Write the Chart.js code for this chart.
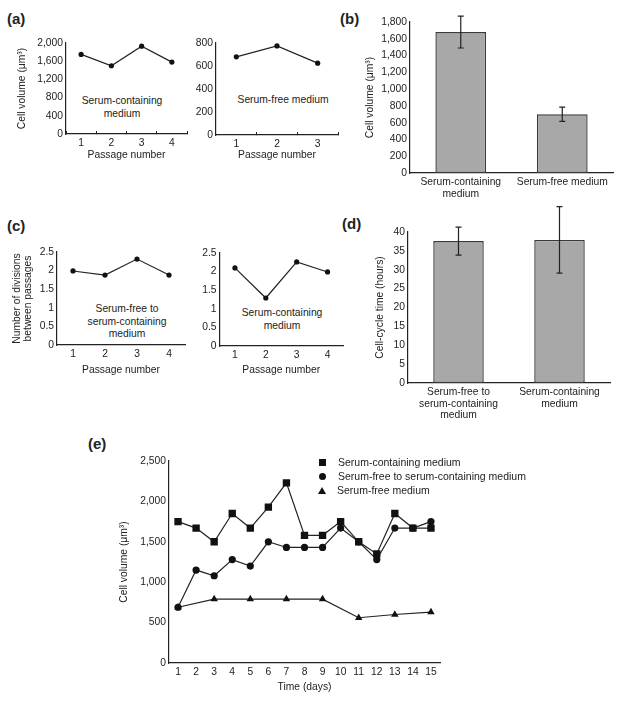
<!DOCTYPE html>
<html>
<head>
<meta charset="utf-8">
<script src="https://cdn.jsdelivr.net/npm/chart.js@4.4.1/dist/chart.umd.min.js"></script>
<style>
  body { margin: 0; width: 620px; height: 713px; position: relative; overflow: hidden; background: #fff;
         font-family: "Liberation Sans", Arial, sans-serif; color: #222; }
  canvas { position: absolute; }
  .panel { position: absolute; font-weight: bold; font-size: 15px; line-height: 18px; }
  .note { position: absolute; font-size: 10.3px; line-height: 12.5px; text-align: center; white-space: nowrap; transform: translateX(-50%); }
  .legend { position: absolute; left: 318px; top: 455px; font-size: 10.5px; }
  .legend div { height: 14px; line-height: 14px; white-space: nowrap; }
  .legend i { display: inline-block; width: 7px; height: 7px; background: #111; margin: 0 12px 1px 1px; vertical-align: middle; }
  .legend i.circle { border-radius: 50%; }
  .legend i.triangle { width: 0; height: 0; background: none; border-left: 4px solid transparent; border-right: 4px solid transparent; border-bottom: 7px solid #111; margin-left: 0; margin-right: 11px; }
</style>
</head>
<body>
<!-- panel letters -->
<div class="panel" style="left:7px;top:10px">(a)</div>
<div class="panel" style="left:340px;top:10px">(b)</div>
<div class="panel" style="left:7px;top:217px">(c)</div>
<div class="panel" style="left:342px;top:215px">(d)</div>
<div class="panel" style="left:88px;top:435px">(e)</div>

<!-- text inside the small line plots -->
<div class="note" style="left:122px;top:95px">Serum-containing<br>medium</div>
<div class="note" style="left:283px;top:94px">Serum-free medium</div>
<div class="note" style="left:127px;top:303px">Serum-free to<br>serum-containing<br>medium</div>
<div class="note" style="left:282px;top:307px">Serum-containing<br>medium</div>

<canvas id="a1"></canvas>
<canvas id="a2"></canvas>
<canvas id="b"></canvas>
<canvas id="c1"></canvas>
<canvas id="c2"></canvas>
<canvas id="d"></canvas>
<canvas id="e"></canvas>
<div class="legend" id="legendE"></div>

<script>
// (a) cell volume per passage
const passages4 = ["1", "2", "3", "4"];
const passages3 = ["1", "2", "3"];
const volumeContaining = [1750, 1500, 1930, 1580];
const volumeFree = [680, 775, 625];

// (b) mean cell volume
const mediumB = [["Serum-containing", "medium"], "Serum-free medium"];
const meanVolume = [1680, 700];
const meanVolumeErr = [190, 85];

// (c) divisions between passages
const divisionsFreeToContaining = [1.99, 1.88, 2.31, 1.88];
const divisionsContaining = [2.10, 1.29, 2.26, 1.99];

// (d) cell-cycle time
const mediumD = [["Serum-free to", "serum-containing", "medium"], ["Serum-containing", "medium"]];
const cycleTime = [37.6, 37.9];
const cycleTimeErr = [3.7, 8.8];

// (e) cell volume over time
const days = ["1", "2", "3", "4", "5", "6", "7", "8", "9", "10", "11", "12", "13", "14", "15"];
const volContaining = [1750, 1670, 1500, 1850, 1670, 1930, 2230, 1580, 1580, 1750, 1500, 1350, 1850, 1670, 1670];
const volFreeToContaining = [690, 1150, 1080, 1280, 1200, 1500, 1430, 1430, 1430, 1670, 1500, 1280, 1670, 1670, 1750];
const volFree = [690, null, 790, null, 790, null, 790, null, 790, null, 560, null, 600, null, 630];

const FONT = { family: "'Liberation Sans', Arial, sans-serif", size: 10.3, lineHeight: 1.15 };
const INK = "#222";
Chart.defaults.color = INK;
Chart.defaults.font.family = FONT.family;
Chart.defaults.font.size = FONT.size;

// draws +/- error bars from dataset.errors
const errorBars = {
  id: "errorBars",
  afterDatasetsDraw(chart) {
    const { ctx, scales: { y } } = chart;
    chart.data.datasets.forEach((ds, di) => {
      if (!ds.errors) return;
      const meta = chart.getDatasetMeta(di);
      ctx.save();
      ctx.strokeStyle = INK;
      ctx.lineWidth = 1.2;
      meta.data.forEach((bar, i) => {
        const top = y.getPixelForValue(ds.data[i] + ds.errors[i]);
        const bot = y.getPixelForValue(ds.data[i] - ds.errors[i]);
        ctx.beginPath();
        ctx.moveTo(bar.x, top); ctx.lineTo(bar.x, bot);
        ctx.moveTo(bar.x - 3, top); ctx.lineTo(bar.x + 3, top);
        ctx.moveTo(bar.x - 3, bot); ctx.lineTo(bar.x + 3, bot);
        ctx.stroke();
      });
      ctx.restore();
    });
  }
};

// box = canvas rect on the page, plot = wanted chart area on the page
function makeChart(id, box, plot, o) {
  const cv = document.getElementById(id);
  cv.width = box.w; cv.height = box.h;
  cv.style.left = box.x + "px"; cv.style.top = box.y + "px";
  const lh = FONT.size * 1.2;
  const yW = plot.l - box.x, xH = box.y + box.h - plot.b;
  return new Chart(cv, {
    type: o.type,
    data: o.data,
    plugins: o.plugins || [],
    options: {
      responsive: false,
      animation: false,
      locale: "en-US",
      layout: { padding: { left: 0, bottom: 0, top: plot.t - box.y, right: box.x + box.w - plot.r } },
      plugins: { legend: { display: false }, tooltip: { enabled: false } },
      scales: {
        x: {
          offset: true,
          grid: o.xTicksUp
            ? { display: true, drawOnChartArea: false, offset: true, tickLength: -3, color: INK, lineWidth: 1 }
            : { display: false, drawTicks: false },
          border: { display: true, color: INK, width: 1.2 },
          ticks: { padding: o.xTicksUp ? 6 : 3, maxRotation: 0, autoSkip: false, font: FONT },
          title: {
            display: !!o.xTitle, text: o.xTitle, font: FONT,
            padding: { top: 0, bottom: box.y + box.h - o.xTitleY - lh / 2 }
          },
          afterFit(s) { s.height = xH; s.paddingLeft = 0; s.paddingRight = 0; }
        },
        y: {
          min: 0, max: o.yMax,
          grid: { display: false, drawTicks: false },
          border: { display: true, color: INK, width: 1.2 },
          ticks: { stepSize: o.yStep, padding: 3, font: FONT, callback: v => v.toLocaleString("en-US") },
          title: {
            display: !!o.yTitle, text: o.yTitle, font: FONT,
            padding: { top: o.yTitleX ? o.yTitleX - box.x - lh / 2 : 0, bottom: 0 }
          },
          afterFit(s) { s.width = yW; s.paddingTop = 0; s.paddingBottom = 0; }
        }
      }
    }
  });
}

function lineSet(values) {
  return {
    data: values, borderColor: INK, borderWidth: 1.2,
    pointRadius: 2.6, pointBackgroundColor: "#111", pointBorderWidth: 0
  };
}

function barSet(values, errors) {
  return {
    data: values, errors: errors,
    backgroundColor: "#a8a8a8", borderColor: "#3a3a3a", borderWidth: 1.4, borderSkipped: false,
    barPercentage: 0.5, categoryPercentage: 1
  };
}

const volumeTitle = "Cell volume (\u03bcm\u00b3)";

makeChart("a1", { x: 12, y: 30, w: 183, h: 135 }, { l: 66, t: 43, r: 187, b: 134 }, {
  type: "line", data: { labels: passages4, datasets: [lineSet(volumeContaining)] },
  yMax: 2000, yStep: 400, yTitle: volumeTitle, yTitleX: 22,
  xTitle: "Passage number", xTitleY: 155, xTicksUp: true
});

makeChart("a2", { x: 185, y: 30, w: 160, h: 135 }, { l: 216, t: 43, r: 338, b: 135 }, {
  type: "line", data: { labels: passages3, datasets: [lineSet(volumeFree)] },
  yMax: 800, yStep: 200,
  xTitle: "Passage number", xTitleY: 155, xTicksUp: true
});

makeChart("b", { x: 355, y: 5, w: 262, h: 200 }, { l: 410, t: 22, r: 613, b: 173 }, {
  type: "bar", data: { labels: mediumB, datasets: [barSet(meanVolume, meanVolumeErr)] },
  plugins: [errorBars],
  yMax: 1800, yStep: 200, yTitle: volumeTitle, yTitleX: 370
});

makeChart("c1", { x: 5, y: 240, w: 185, h: 140 }, { l: 57, t: 252, r: 185, b: 345 }, {
  type: "line", data: { labels: passages4, datasets: [lineSet(divisionsFreeToContaining)] },
  yMax: 2.5, yStep: 0.5, yTitle: ["Number of divisions", "between passages"], yTitleX: 17,
  xTitle: "Passage number", xTitleY: 370
});

makeChart("c2", { x: 190, y: 240, w: 160, h: 140 }, { l: 219.5, t: 253, r: 343, b: 346 }, {
  type: "line", data: { labels: passages4, datasets: [lineSet(divisionsContaining)] },
  yMax: 2.5, yStep: 0.5,
  xTitle: "Passage number", xTitleY: 370
});

makeChart("d", { x: 355, y: 200, w: 262, h: 230 }, { l: 408, t: 232, r: 610, b: 383 }, {
  type: "bar", data: { labels: mediumD, datasets: [barSet(cycleTime, cycleTimeErr)] },
  plugins: [errorBars],
  yMax: 40, yStep: 5, yTitle: "Cell-cycle time (hours)", yTitleX: 380
});

const seriesE = [
  { label: "Serum-containing medium", data: volContaining, pointStyle: "rect", pointRadius: 5.2 },
  { label: "Serum-free to serum-containing medium", data: volFreeToContaining, pointStyle: "circle", pointRadius: 3.6 },
  { label: "Serum-free medium", data: volFree, pointStyle: "triangle", pointRadius: 4.3 }
].map(s => Object.assign({
  borderColor: INK, borderWidth: 1.2, pointBackgroundColor: "#111", pointBorderWidth: 0, spanGaps: true
}, s));

const chartE = makeChart("e", { x: 100, y: 450, w: 360, h: 250 }, { l: 169, t: 461, r: 440, b: 663 }, {
  type: "line", data: { labels: days, datasets: seriesE },
  yMax: 2500, yStep: 500, yTitle: volumeTitle, yTitleX: 124,
  xTitle: "Time (days)", xTitleY: 687
});

// HTML legend for (e), built from the chart's datasets
const styleClass = { rect: "square", circle: "circle", triangle: "triangle" };
document.getElementById("legendE").innerHTML = chartE.data.datasets
  .map(ds => `<div><i class="${styleClass[ds.pointStyle]}"></i>${ds.label}</div>`)
  .join("");
</script>
</body>
</html>
